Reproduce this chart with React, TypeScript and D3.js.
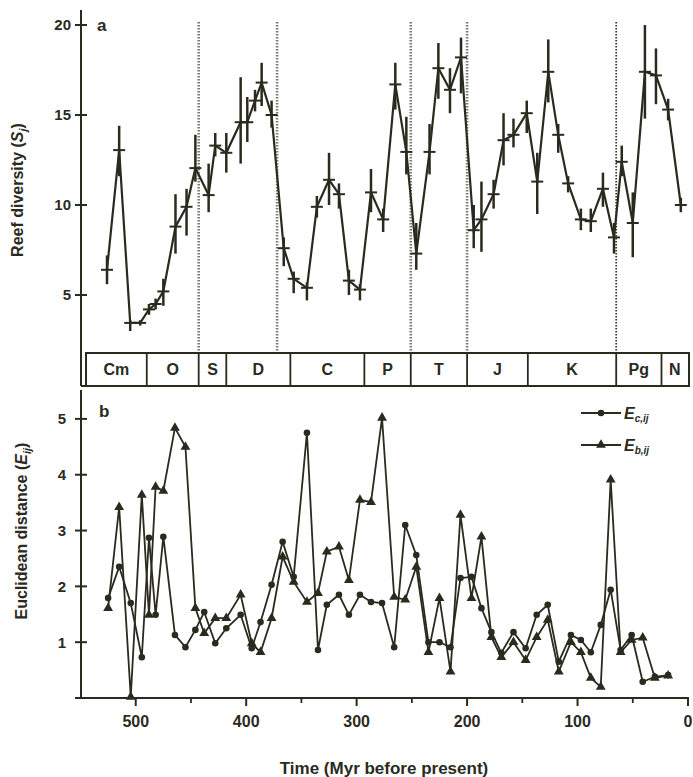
import * as d3 from 'd3';

// panel a: reef diversity per time bin (Myr), mean with error range
const DIV_AGE = [526, 515, 505, 496, 488, 482, 475, 464, 454, 446, 434, 428, 418, 405, 399, 392, 386, 377, 366, 357, 345, 336, 325, 316, 307, 297, 287, 276, 265, 255, 246, 234, 226, 215.5, 205.5, 194, 187, 176, 167, 158, 146, 136.5, 126.5, 117.5, 108.5, 97, 88, 77, 67, 60, 50, 39, 29, 18, 6.5];
const DIV_MEAN = [6.4, 13.05, 3.45, 3.45, 4.2, 4.5, 5.2, 8.8, 9.9, 12.05, 10.55, 13.3, 12.9, 14.6, 14.6, 15.8, 16.8, 15.0, 7.6, 5.9, 5.4, 9.9, 11.4, 10.6, 5.8, 5.3, 10.7, 9.2, 16.7, 12.95, 7.3, 12.95, 17.6, 16.4, 18.2, 8.6, 9.2, 10.6, 13.6, 13.9, 15.1, 11.3, 17.4, 13.9, 11.2, 9.2, 9.1, 10.9, 8.2, 12.4, 9.0, 17.4, 17.2, 15.3, 10.0];
const DIV_LO = [5.6, 11.6, 3.0, 3.3, 3.9, 4.2, 4.4, 7.3, 8.3, 11.3, 9.6, 12.7, 11.8, 12.3, 13.5, 15.2, 15.5, 14.3, 6.6, 5.1, 4.7, 9.3, 10.0, 9.8, 5.0, 4.7, 9.6, 8.5, 15.3, 11.7, 6.4, 11.7, 15.9, 15.1, 16.2, 7.6, 7.4, 9.8, 12.2, 13.2, 14.0, 9.5, 15.7, 12.9, 10.7, 8.6, 8.5, 9.9, 7.3, 11.6, 7.1, 14.8, 15.6, 14.7, 9.6];
const DIV_HI = [7.2, 14.4, 3.6, 3.6, 4.5, 4.8, 5.9, 10.6, 10.9, 13.9, 12.3, 14.0, 14.0, 17.1, 16.0, 16.4, 17.9, 15.8, 8.2, 6.3, 5.7, 10.5, 12.9, 11.2, 6.4, 5.6, 12.0, 9.8, 17.9, 14.9, 9.0, 14.5, 19.0, 17.6, 19.3, 10.0, 11.3, 11.4, 15.1, 14.8, 15.8, 12.9, 19.2, 14.5, 11.6, 9.8, 9.8, 11.8, 9.0, 13.3, 10.7, 20.0, 18.7, 15.9, 10.4];

// panel b: euclidean distances
const DIST_AGE = [525, 515, 504.5, 494.5, 488, 482, 475, 464.5, 455, 446, 438, 428, 418, 405, 395, 387, 377, 367, 357, 345, 335, 327, 316, 307, 297, 287, 277, 266, 256, 246, 235, 225, 215, 206, 196, 187, 178, 169, 158, 147, 137, 127, 117, 106, 97, 88, 79, 70, 61, 51, 41, 30, 18];
const E_C = [1.79, 2.35, 1.70, 0.73, 2.87, 1.49, 2.89, 1.13, 0.91, 1.22, 1.54, 0.98, 1.25, 1.49, 0.89, 1.36, 2.03, 2.80, 2.17, 4.75, 0.86, 1.67, 1.85, 1.49, 1.85, 1.72, 1.70, 0.91, 3.10, 2.56, 1.0, 1.0, 0.91, 2.15, 2.17, 1.61, 1.18, 0.81, 1.18, 0.89, 1.49, 1.67, 0.65, 1.13, 1.04, 0.82, 1.31, 1.94, 0.86, 1.13, 0.29, 0.38, 0.41];
const E_B = [1.61, 3.42, 0.02, 3.64, 1.49, 3.78, 3.71, 4.84, 4.50, 1.61, 1.16, 1.43, 1.43, 1.85, 0.98, 0.82, 1.43, 2.53, 2.08, 1.72, 1.88, 2.62, 2.71, 2.11, 3.55, 3.51, 5.02, 1.81, 1.76, 2.35, 0.82, 1.79, 0.47, 3.28, 1.79, 2.89, 1.09, 0.73, 1.0, 0.68, 1.09, 1.40, 0.47, 1.0, 0.82, 0.36, 0.2, 3.91, 0.82, 1.04, 1.08, 0.36, 0.40];

const PERIOD_BOUNDS = [545, 490, 443, 418, 360, 293, 251, 200, 145, 65, 24, 0];
const PERIOD_NAMES = ['Cm', 'O', 'S', 'D', 'C', 'P', 'T', 'J', 'K', 'Pg', 'N'];
const EXTINCTIONS = [443, 372, 251, 200, 65];

const X_MAJOR = [500, 400, 300, 200, 100, 0];
const X_MINOR = [450, 350, 250, 150, 50];
const Y_TOP_TICKS = [5, 10, 15, 20];
const Y_BOT_TICKS = [1, 2, 3, 4, 5];

const INK = '#2a2a1e';
const FONT = "'Liberation Sans', Arial, sans-serif";

export default function App() {
  const x = d3.scaleLinear().domain([550, 0]).range([80.5, 688]);
  const yTop = d3.scaleLinear().domain([0, 21]).range([385, 7]);
  const yBot = d3.scaleLinear().domain([0, 5.5]).range([698, 391]);

  const divLine = d3.line<number>().x((_, i) => x(DIV_AGE[i])).y((d) => yTop(d));
  const distLine = d3.line<number>().x((_, i) => x(DIST_AGE[i])).y((d) => yBot(d));
  const circle = d3.symbol().type(d3.symbolCircle).size(34)()!;
  const tri = d3.symbol().type(d3.symbolTriangle).size(42)()!;

  const axisX = 81;
  const barTop = 353, barBot = 386;

  return (
    <svg width={693} height={777} style={{ position: 'absolute', left: 0, top: 0, background: '#fff' }}
      fontFamily={FONT} fill={INK}>
      {/* extinction lines */}
      {EXTINCTIONS.map((t, i) => (
        <line key={t} x1={x(t)} x2={x(t)} y1={22} y2={barTop}
          stroke={i === 4 ? '#3a3a30' : '#7a7a70'} strokeWidth={i === 4 ? 1.8 : 2.6} strokeDasharray="1.6 1.4" />
      ))}

      {/* panel a */}
      <line x1={axisX} x2={axisX} y1={10} y2={barBot} stroke={INK} strokeWidth={2} />
      {Y_TOP_TICKS.map((v) => (
        <g key={v}>
          <line x1={axisX - 6} x2={axisX + 6} y1={yTop(v)} y2={yTop(v)} stroke={INK} strokeWidth={2} />
          <text x={71} y={yTop(v)} dy="0.36em" textAnchor="end" fontSize={15} fontWeight="bold">{v}</text>
        </g>
      ))}
      <text x={97} y={31} fontSize={17} fontWeight="bold">a</text>
      <text transform={`translate(23,190) rotate(-90)`} textAnchor="middle" fontSize={16} fontWeight="bold">
        Reef diversity (<tspan fontStyle="italic">S</tspan><tspan fontSize={11} dy={4} fontStyle="italic">j</tspan><tspan dy={-4}>)</tspan>
      </text>

      {DIV_MEAN.map((v, i) => (
        <line key={'e' + i} x1={x(DIV_AGE[i])} x2={x(DIV_AGE[i])} y1={yTop(DIV_LO[i])} y2={yTop(DIV_HI[i])}
          stroke={INK} strokeWidth={2.5} />
      ))}
      <path d={divLine(DIV_MEAN)!} fill="none" stroke={INK} strokeWidth={2.2} />
      {DIV_MEAN.map((v, i) => (
        <line key={'h' + i} x1={x(DIV_AGE[i]) - 6} x2={x(DIV_AGE[i]) + 6} y1={yTop(v)} y2={yTop(v)}
          stroke={INK} strokeWidth={2} />
      ))}

      {/* period bar */}
      <rect x={x(PERIOD_BOUNDS[0])} y={barTop} width={x(0) - x(PERIOD_BOUNDS[0]) + 1} height={barBot - barTop}
        fill="#fff" stroke={INK} strokeWidth={2} />
      <line x1={axisX} x2={x(0) + 1} y1={barBot} y2={barBot} stroke={INK} strokeWidth={2} />
      {PERIOD_NAMES.map((name, i) => {
        const x0 = x(PERIOD_BOUNDS[i]);
        const x1 = x(PERIOD_BOUNDS[i + 1]);
        return (
          <g key={name}>
            {i > 0 && <line x1={x0} x2={x0} y1={barTop} y2={barBot} stroke={INK} strokeWidth={1.8} />}
            <text x={(x0 + x1) / 2} y={(barTop + barBot) / 2} dy="0.36em" textAnchor="middle" fontSize={16} fontWeight="bold">{name}</text>
          </g>
        );
      })}

      {/* panel b */}
      <line x1={axisX} x2={axisX} y1={390} y2={699} stroke={INK} strokeWidth={2} />
      <line x1={axisX - 6} x2={x(0) + 1} y1={698} y2={698} stroke={INK} strokeWidth={2} />
      {Y_BOT_TICKS.map((v) => (
        <g key={v}>
          <line x1={axisX - 6} x2={axisX + 6} y1={yBot(v)} y2={yBot(v)} stroke={INK} strokeWidth={2} />
          <text x={66} y={yBot(v)} dy="0.36em" textAnchor="end" fontSize={15} fontWeight="bold">{v}</text>
        </g>
      ))}
      {X_MAJOR.map((t) => (
        <g key={t}>
          <line x1={x(t)} x2={x(t)} y1={698} y2={706} stroke={INK} strokeWidth={2} />
          <text x={x(t)} y={721} dy="0.36em" textAnchor="middle" fontSize={16} fontWeight="bold">{t}</text>
        </g>
      ))}
      {X_MINOR.map((t) => (
        <line key={t} x1={x(t)} x2={x(t)} y1={698} y2={703} stroke={INK} strokeWidth={1.8} />
      ))}
      <text x={384} y={768} dy="0.36em" textAnchor="middle" fontSize={17} fontWeight="bold">Time (Myr before present)</text>
      <text x={99} y={417} fontSize={17} fontWeight="bold">b</text>
      <text transform={`translate(27,531) rotate(-90)`} textAnchor="middle" fontSize={16} fontWeight="bold">
        Euclidean distance (<tspan fontStyle="italic">E</tspan><tspan fontSize={11} dy={4} fontStyle="italic">ij</tspan><tspan dy={-4}>)</tspan>
      </text>

      <path d={distLine(E_B)!} fill="none" stroke={INK} strokeWidth={1.8} />
      <path d={distLine(E_C)!} fill="none" stroke={INK} strokeWidth={1.8} />
      {E_C.map((v, i) => (
        <path key={'c' + i} d={circle} transform={`translate(${x(DIST_AGE[i])},${yBot(v)})`} fill={INK} />
      ))}
      {E_B.map((v, i) => (
        <path key={'b' + i} d={tri} transform={`translate(${x(DIST_AGE[i])},${yBot(v)})`} fill={INK} />
      ))}

      {/* legend */}
      <line x1={581} x2={621} y1={413} y2={413} stroke={INK} strokeWidth={1.8} />
      <path d={circle} transform="translate(601,413)" fill={INK} />
      <text x={624} y={419} fontSize={16} fontStyle="italic" fontWeight="bold">E<tspan fontSize={10} dy={3}>c,ij</tspan></text>
      <line x1={581} x2={621} y1={445} y2={445} stroke={INK} strokeWidth={1.8} />
      <path d={tri} transform="translate(601,445)" fill={INK} />
      <text x={624} y={451} fontSize={16} fontStyle="italic" fontWeight="bold">E<tspan fontSize={10} dy={3}>b,ij</tspan></text>
    </svg>
  );
}
